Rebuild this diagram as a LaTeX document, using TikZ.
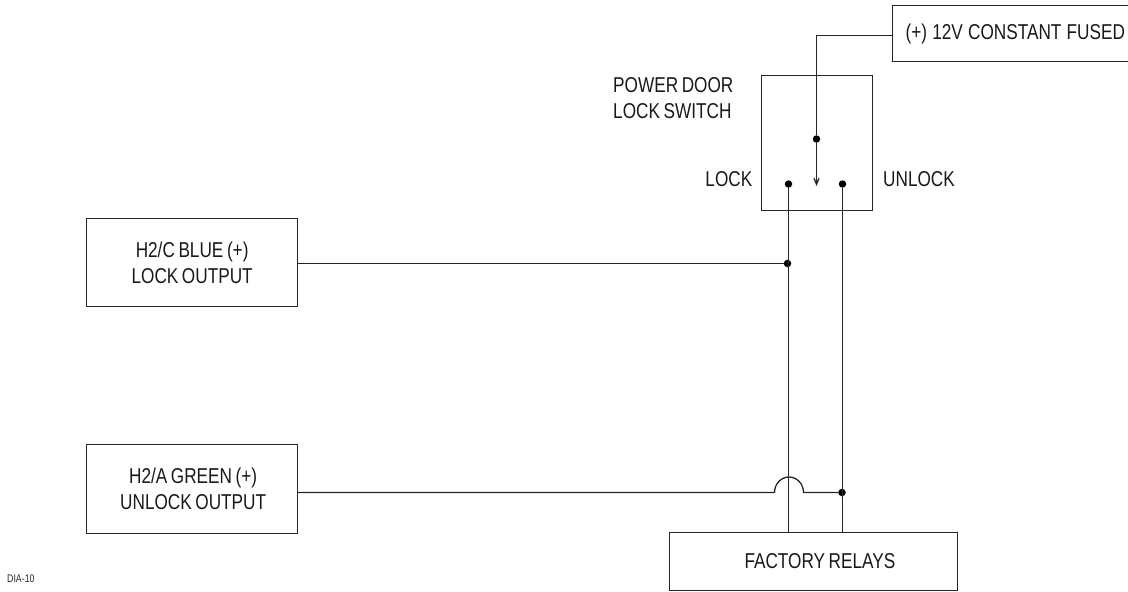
\documentclass[tikz,border=0pt]{standalone}
\usepackage{fontspec}
\setmainfont[FakeStretch=0.8,WordSpace=0.75]{Liberation Sans}
\usetikzlibrary{arrows.meta}
\tikzset{
  x=1pt,y=-1pt,
  box/.style={draw=black!85,line width=1.3pt,rectangle,inner sep=0pt,align=center,font=\fontsize{21.5}{26}\selectfont,text=black!90},
  lab/.style={inner sep=0pt,align=left,font=\fontsize{21.5}{26.5}\selectfont,text=black!90},
  wire/.style={draw=black!85,line width=1.3pt},
  dot/.style={circle,fill=black,inner sep=0pt,minimum size=7.5pt}
}
\begin{document}
\begin{tikzpicture}
\useasboundingbox (0,0) rectangle (1128,592);
\node[box,anchor=north west,minimum width=235.5pt,minimum height=56pt] (fused) at (892,5) {\makebox[235.5pt][l]{\hspace*{13pt}\raisebox{-2pt}{\spaceskip=5.2pt (+) 12V CONSTANT FUSED}}};
\node[box,anchor=north west,minimum width=111pt,minimum height=135pt] (switch) at (761,75) {};
\node[box,anchor=north west,minimum width=211pt,minimum height=88pt] (bluebox) at (86,218) {\raisebox{-0.5pt}{H2/C BLUE (+)}\\LOCK OUTPUT};
\node[box,anchor=north west,minimum width=211pt,minimum height=89pt] (greenbox) at (86,444) {\hspace*{2pt}H2/A GREEN (+)\\\hspace*{2pt}UNLOCK OUTPUT};
\node[box,anchor=north west,minimum width=288.5pt,minimum height=57.5pt] (relays) at (668.5,532) {\hspace*{13pt}FACTORY RELAYS};
\node[lab,anchor=west] (pd) at (613,98) {POWER DOOR\\LOCK SWITCH};
\node[lab,anchor=east] (locklab) at (752.5,179) {LOCK};
\node[lab,anchor=west] (unlocklab) at (883,179) {UNLOCK};
\node[inner sep=0pt,anchor=west,font=\fontsize{11}{13}\selectfont,text=black!85] (dia) at (7,579) {DIA-10};
\node[dot] (pivot) at (816.5,139) {};
\node[dot] (lockdot) at (788.5,184) {};
\node[dot] (unlockdot) at (842.5,184) {};
\node[dot] (j1) at (787.5,263.5) {};
\node[dot] (j2) at (842,492.5) {};
\coordinate (corner) at (816.5,35.5);
\coordinate (tip) at (816.5,186);
\coordinate (fusedin) at (892,35.5);
\coordinate (blueout) at (297,263.5);
\coordinate (greenout) at (297,492.5);
\coordinate (jumpa) at (774.5,492.5);
\coordinate (lockrel) at (788.5,532);
\coordinate (unlockrel) at (842.5,532);
\draw[wire] (fusedin) -- (corner) -- (pivot);
\draw[wire,-{Straight Barb[length=6pt,width=5pt]}] (pivot) -- (tip);
\draw[wire] (lockdot) -- (lockrel);
\draw[wire] (unlockdot) -- (unlockrel);
\draw[wire] (blueout) -- (j1);
\draw[wire] (greenout) -- (jumpa) arc[start angle=180,end angle=0,x radius=14.5,y radius=-15.5] -- (j2);
\end{tikzpicture}
\end{document}
